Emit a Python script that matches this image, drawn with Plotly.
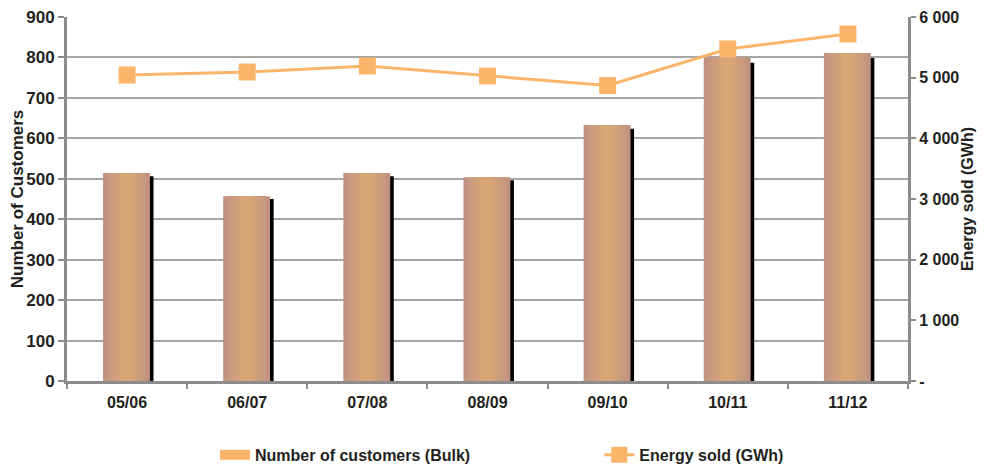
import plotly.graph_objects as go

categories = ["05/06", "06/07", "07/08", "08/09", "09/10", "10/11", "11/12"]
customers = [514, 457, 514, 504, 633, 799, 811]
energy = [5044, 5093, 5192, 5027, 4870, 5473, 5720]
left_ticks = [0, 100, 200, 300, 400, 500, 600, 700, 800, 900]
right_tickvals = [0, 1000, 2000, 3000, 4000, 5000, 6000]
right_ticktext = ["-", "1 000", "2 000", "3 000", "4 000", "5 000", "6 000"]

FONT = "Liberation Sans, Arial"
ORANGE = "#FBB56B"
fig = go.Figure()

# shadow
fig.add_trace(go.Bar(x=categories, y=[v * 0.985 for v in customers], width=0.39, offset=-0.17,
                     marker=dict(color="#000000", line=dict(width=0)), showlegend=False, hoverinfo="skip"))
# gradient layers
layers = [(0.39, "#C29280"), (0.33, "#C79780"), (0.26, "#CD9C7D"), (0.18, "#D3A179"), (0.10, "#D8A575")]
for w, c in layers:
    fig.add_trace(go.Bar(x=categories, y=customers, width=w, offset=-0.2 + (0.39 - w) / 2,
                         marker=dict(color=c, line=dict(width=0)),
                         showlegend=False, hoverinfo="skip"))
# legend entry for bars (legend swatch only)
fig.add_trace(go.Scatter(x=[None], y=[None], mode="lines", name="Number of customers (Bulk)",
                         line=dict(color=ORANGE, width=14), legend="legend"))

fig.add_trace(go.Scatter(x=categories, y=energy, yaxis="y2", mode="lines+markers",
                         name="Energy sold (GWh)", legend="legend2",
                         line=dict(color=ORANGE, width=3),
                         marker=dict(symbol="square", size=17, color=ORANGE)))

legend_font = dict(family=FONT, size=16, color="#231F20", weight="bold")
fig.update_layout(
    width=978, height=457,
    margin=dict(l=59, r=78, t=9, b=84, autoexpand=False),
    plot_bgcolor="white", paper_bgcolor="white",
    barmode="overlay",
    font=dict(family=FONT, size=14, color="#231F20"),
    showlegend=True,
    legend=dict(orientation="h", x=0.176, xanchor="left", y=-0.203, yanchor="middle",
                font=legend_font, bgcolor="rgba(0,0,0,0)"),
    legend2=dict(orientation="h", x=0.633, xanchor="left", y=-0.203, yanchor="middle",
                 font=legend_font, bgcolor="rgba(0,0,0,0)"),
    xaxis=dict(type="category", showline=True, linecolor="#8C8C8C", linewidth=3, automargin=False,
               ticks="outside", tickson="boundaries", ticklen=5, tickcolor="#8C8C8C", tickwidth=2,
               ticklabelstandoff=5,
               tickfont=dict(family=FONT, size=16, weight="bold"), showgrid=False),
    yaxis=dict(range=[0, 900], tickvals=left_ticks, showline=True, linecolor="#8C8C8C", linewidth=3,
               ticks="outside", ticklen=6, tickcolor="#8C8C8C", tickwidth=2, automargin=False,
               ticklabeloverflow="allow",
               gridcolor="#A6A6A6", gridwidth=2, zeroline=False,
               tickfont=dict(family=FONT, size=17, weight="bold"),
               title=dict(text="Number of Customers", font=dict(family=FONT, size=17, weight="bold"), standoff=4)),
    yaxis2=dict(range=[0, 6000], overlaying="y", side="right", tickvals=right_tickvals,
                ticktext=right_ticktext, showline=True, linecolor="#8C8C8C", linewidth=3,
                ticks="outside", ticklen=5, tickcolor="#8C8C8C", tickwidth=2, showgrid=False,
                zeroline=False, automargin=False, ticklabeloverflow="allow",
                tickfont=dict(family=FONT, size=16, weight="bold"),
                title=dict(text="Energy sold (GWh)", font=dict(family=FONT, size=16, weight="bold"), standoff=2)),
)

fig.write_html("out.html")
